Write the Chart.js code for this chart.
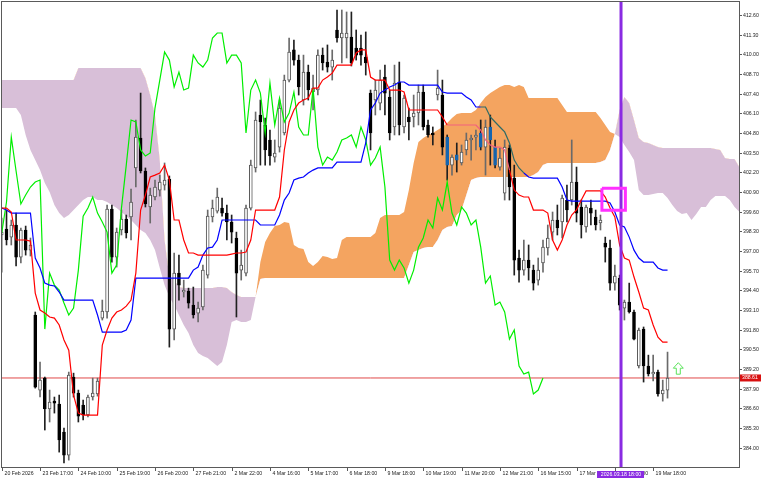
<!DOCTYPE html>
<html>
<head>
<meta charset="utf-8">
<script src="https://cdn.jsdelivr.net/npm/chart.js@4.4.1/dist/chart.umd.min.js"></script>
<style>
  html, body { margin: 0; padding: 0; background: #fff; }
  canvas { display: block; }
</style>
</head>
<body>
<canvas id="chart" width="768" height="480"></canvas>
<script>
// H1 candles, bar index 0..139
const opens = [
  398.06, 398.45, 397.92, 398.72, 396.60, 398.39, 397.06, 392.77, 387.81, 388.60,
  386.56, 387.08, 386.89, 385.03, 383.51, 388.67, 387.61, 386.82, 386.16, 387.35,
  387.55, 392.57, 392.97, 399.78, 396.60, 398.39, 399.11, 399.25, 402.49, 404.47,
  402.29, 399.91, 400.57, 401.03, 401.36, 401.76, 391.84, 395.54, 394.29, 394.35,
  393.43, 392.90, 393.30, 395.41, 399.25, 399.64, 399.84, 399.51, 398.92, 397.86,
  395.74, 395.54, 399.84, 402.49, 405.99, 405.33, 404.34, 403.21, 403.87, 404.80,
  408.30, 410.29, 409.62, 406.98, 408.83, 407.51, 407.64, 409.95, 409.49, 409.16,
  411.61, 411.08, 411.08, 411.14, 410.42, 410.42, 409.82, 407.44, 406.98, 406.78,
  408.50, 407.18, 405.20, 408.17, 405.20, 405.86, 405.86, 406.12, 407.51, 405.33,
  404.80, 407.31, 407.31, 404.53, 402.68, 403.35, 402.82, 403.68, 404.34, 404.53,
  404.80, 403.87, 405.20, 403.87, 402.55, 400.83, 403.81, 401.82, 396.54, 395.74,
  396.40, 395.74, 395.08, 396.21, 397.20, 398.25, 399.05, 398.92, 400.37, 400.37,
  401.56, 399.91, 398.59, 399.84, 399.25, 398.85, 397.53, 397.20, 394.88, 395.21,
  393.23, 393.63, 392.97, 389.40, 391.84, 389.40, 388.87, 389.00, 387.55, 387.81
];
const highs = [
  399.18, 399.71, 399.05, 399.51, 398.52, 398.65, 397.86, 392.97, 389.66, 388.67,
  387.81, 387.35, 387.48, 385.30, 389.00, 388.93, 387.81, 387.15, 387.48, 388.60,
  388.60, 393.76, 400.04, 400.04, 398.52, 399.71, 399.38, 401.10, 405.66, 407.44,
  402.49, 401.16, 401.69, 402.02, 402.82, 401.96, 396.87, 396.73, 395.08, 394.55,
  394.62, 393.63, 396.07, 399.71, 400.37, 401.16, 400.50, 400.04, 399.38, 398.25,
  397.06, 400.04, 403.01, 406.19, 406.98, 405.79, 405.00, 404.34, 406.98, 408.63,
  411.08, 410.95, 409.95, 409.95, 409.29, 408.63, 410.29, 410.42, 410.62, 410.29,
  412.93, 412.93, 412.80, 412.80, 411.61, 411.28, 411.48, 407.64, 408.30, 408.96,
  409.29, 407.64, 409.29, 409.49, 407.31, 406.45, 407.31, 407.97, 407.97, 405.66,
  405.20, 408.96, 408.30, 404.67, 403.35, 404.14, 404.01, 404.80, 404.67, 405.00,
  405.66, 405.66, 405.99, 404.34, 403.81, 404.34, 404.01, 402.68, 397.06, 397.73,
  397.40, 396.07, 396.54, 397.73, 398.72, 399.58, 400.04, 400.70, 401.36, 404.34,
  402.55, 400.37, 400.04, 400.37, 399.71, 399.38, 397.92, 397.73, 396.07, 395.41,
  393.76, 394.88, 393.10, 391.91, 391.98, 390.12, 390.12, 389.13, 388.47, 390.32
];
const lows = [
  395.61, 397.40, 397.40, 396.01, 396.21, 396.73, 396.67, 387.94, 387.35, 385.17,
  385.70, 386.29, 383.71, 382.99, 383.18, 387.35, 385.70, 385.83, 386.03, 387.15,
  387.41, 392.44, 392.57, 396.27, 395.94, 398.06, 397.86, 397.73, 401.23, 402.16,
  399.91, 398.85, 400.37, 400.63, 401.03, 390.65, 391.12, 393.76, 393.96, 393.23,
  392.57, 392.31, 393.10, 395.21, 398.92, 399.51, 399.31, 397.73, 397.53, 392.64,
  395.08, 395.35, 399.71, 402.22, 402.68, 402.68, 402.68, 402.88, 403.54, 404.67,
  408.17, 409.29, 407.31, 406.65, 406.98, 406.32, 407.31, 408.96, 408.83, 408.30,
  410.81, 409.43, 409.76, 409.23, 409.62, 409.29, 408.63, 403.68, 405.99, 406.32,
  405.99, 404.34, 404.67, 404.67, 404.80, 404.34, 405.20, 405.33, 405.00, 404.53,
  404.01, 406.98, 403.35, 401.69, 402.02, 402.22, 402.68, 403.35, 403.01, 403.68,
  403.68, 402.02, 402.68, 402.49, 402.35, 400.37, 400.37, 395.41, 394.95, 395.41,
  395.08, 394.42, 394.75, 395.61, 396.73, 397.73, 398.06, 397.86, 398.92, 400.04,
  398.92, 397.86, 398.25, 398.72, 398.39, 398.39, 396.27, 394.42, 394.42, 393.10,
  392.44, 392.90, 391.12, 389.27, 388.34, 388.74, 388.41, 387.41, 387.08, 387.28
];
const closes = [
  398.25, 397.73, 398.72, 396.60, 398.39, 397.06, 397.40, 388.01, 388.47, 386.56,
  387.02, 386.95, 384.51, 383.51, 388.80, 387.61, 386.09, 386.16, 387.35, 387.61,
  388.41, 393.03, 399.78, 396.60, 398.25, 399.11, 398.19, 400.24, 404.53, 402.29,
  400.11, 400.70, 401.23, 401.56, 401.69, 391.84, 395.54, 394.75, 394.42, 393.56,
  392.77, 393.23, 395.74, 399.31, 399.84, 400.57, 399.51, 398.92, 398.25, 395.54,
  396.07, 399.84, 402.68, 405.66, 405.53, 403.68, 403.28, 403.48, 406.45, 408.30,
  410.15, 409.62, 407.84, 408.83, 407.64, 407.77, 409.95, 409.43, 409.16, 409.62,
  411.08, 411.41, 411.41, 409.43, 409.95, 409.95, 409.43, 404.80, 407.64, 408.30,
  407.44, 404.80, 408.10, 405.33, 407.11, 405.53, 406.12, 407.51, 405.20, 404.67,
  404.67, 407.77, 403.87, 402.68, 403.21, 403.01, 403.54, 404.34, 404.47, 404.67,
  403.87, 405.20, 404.34, 402.68, 403.15, 403.87, 401.23, 396.40, 395.74, 396.40,
  395.88, 394.88, 395.74, 397.26, 397.86, 399.05, 398.52, 400.50, 399.71, 401.56,
  399.51, 398.72, 399.91, 399.51, 398.72, 399.05, 397.26, 394.88, 395.35, 393.43,
  393.63, 392.97, 391.18, 391.78, 389.40, 388.87, 389.00, 387.55, 387.81, 388.61
];

// Ichimoku lines
const tenkan = [
  399.84, 399.84, 399.58, 397.73, 397.73, 397.73, 397.66, 394.22, 393.10, 392.90,
  392.64, 392.57, 392.11, 391.12, 390.45, 387.48, 386.29, 386.16, 386.16, 386.16,
  386.16, 390.79, 391.78, 392.57, 392.97, 393.10, 393.36, 393.76, 395.54, 399.71,
  400.70, 401.89, 402.02, 402.16, 402.68, 401.69, 399.05, 399.05, 397.73, 396.87,
  396.87, 396.73, 396.73, 396.73, 396.73, 396.73, 396.73, 396.73, 396.80, 396.87,
  396.87, 396.93, 397.73, 399.71, 399.71, 399.71, 399.71, 399.71, 400.57, 403.68,
  405.53, 406.32, 406.78, 406.98, 407.11, 407.77, 407.77, 408.30, 408.50, 408.76,
  409.29, 409.29, 409.29, 409.29, 410.09, 410.29, 410.29, 408.50, 408.30, 408.30,
  408.30, 407.64, 407.64, 407.64, 407.51, 406.32, 406.32, 406.32, 406.32, 406.32,
  406.32, 406.32, 405.86, 405.33, 405.33, 405.33, 405.33, 405.33, 405.33, 405.33,
  405.00, 404.34, 404.01, 403.87, 403.87, 403.68, 402.35, 401.03, 400.70, 400.57,
  400.57, 399.71, 399.71, 399.71, 399.51, 397.73, 397.06, 397.73, 398.72, 399.38,
  399.71, 400.37, 400.97, 400.97, 400.97, 400.97, 400.57, 399.84, 399.25, 397.40,
  396.54, 396.40, 395.28, 394.29, 393.23, 393.10, 392.11, 391.31, 390.98, 390.98
];
const kijun = [
  399.84, 399.71, 399.51, 399.51, 399.51, 399.51, 399.51, 396.54, 395.88, 394.88,
  394.75, 394.69, 394.29, 393.76, 393.76, 393.76, 393.76, 393.76, 393.76, 393.76,
  392.77, 391.64, 391.64, 391.64, 391.64, 391.64, 391.78, 392.44, 395.21, 395.21,
  395.21, 395.21, 395.21, 395.21, 395.21, 395.21, 395.21, 395.21, 395.21, 395.21,
  395.74, 395.94, 396.73, 397.20, 397.26, 397.73, 399.05, 399.05, 399.05, 399.05,
  399.05, 399.05, 399.05, 399.05, 398.72, 398.72, 398.72, 398.72, 399.38, 400.37,
  400.83, 401.69, 401.82, 401.89, 402.16, 402.35, 402.49, 402.49, 402.49, 402.49,
  402.88, 402.88, 402.88, 402.88, 402.88, 402.88, 404.14, 406.32, 406.78, 407.44,
  407.64, 407.84, 407.97, 408.17, 408.17, 407.97, 407.97, 407.97, 407.97, 407.97,
  407.97, 407.97, 407.51, 407.44, 407.44, 407.44, 407.44, 407.18, 406.98, 406.52,
  406.52, 406.52, 405.86, 405.53, 405.20, 404.87, 404.14, 403.01, 402.49, 402.16,
  401.89, 401.82, 401.82, 401.82, 401.82, 401.82, 401.82, 401.23, 400.37, 400.30,
  400.30, 400.30, 400.30, 400.30, 400.30, 400.30, 400.30, 400.17, 399.58, 398.72,
  398.59, 397.92, 397.06, 396.54, 396.27, 396.27, 396.27, 395.88, 395.74, 395.74
];
// Senkou spans, already shifted 26 bars ahead (index 0..154)
const spanA = [
  406.45, 406.45, 406.45, 406.45, 405.99, 404.67, 403.68, 403.01, 402.35, 401.49,
  400.90, 400.04, 399.51, 399.18, 399.38, 399.71, 400.04, 400.37, 400.57, 400.57,
  400.37, 400.37, 400.24, 400.04, 399.84, 399.58, 399.31, 399.05, 398.72, 398.39,
  398.19, 397.73, 397.06, 395.88, 394.75, 393.96, 393.43, 392.77, 392.11, 391.58,
  390.79, 390.26, 390.06, 389.93, 389.66, 389.40, 389.66, 390.79, 392.31, 392.44,
  392.31, 392.31, 392.44, 393.96, 396.27, 397.59, 398.19, 398.65, 398.72, 398.92,
  398.85, 397.40, 397.20, 397.13, 396.27, 396.01, 396.27, 396.67, 396.60, 396.47,
  396.54, 397.73, 397.92, 397.92, 397.92, 397.92, 397.92, 397.92, 398.19, 399.18,
  399.38, 399.38, 399.38, 399.38, 399.58, 401.03, 402.82, 404.20, 404.47, 404.67,
  404.80, 405.00, 405.20, 405.46, 405.79, 406.06, 406.12, 406.12, 406.12, 406.32,
  406.78, 407.18, 407.44, 407.64, 407.84, 407.97, 407.97, 407.84, 407.97, 407.84,
  407.11, 407.11, 407.11, 407.11, 407.11, 407.11, 407.11, 406.65, 406.19, 406.19,
  406.19, 406.19, 406.19, 406.19, 406.19, 405.79, 405.33, 404.87, 404.73, 404.53,
  404.01, 403.54, 403.01, 401.03, 400.70, 400.70, 400.77, 400.83, 400.83, 400.50,
  400.04, 399.64, 399.44, 399.51, 399.05, 399.44, 399.91, 399.91, 400.37, 400.63,
  400.63, 400.63, 400.37, 399.91, 399.58
];
const spanB = [
  408.30, 408.30, 408.30, 408.30, 408.30, 408.30, 408.30, 408.30, 408.30, 408.30,
  408.30, 408.30, 408.30, 408.30, 408.30, 408.30, 409.10, 409.10, 409.10, 409.10,
  409.10, 409.10, 409.10, 409.10, 409.10, 409.10, 409.10, 409.10, 409.10, 409.10,
  408.43, 407.31, 405.99, 403.01, 397.73, 395.28, 395.08, 394.62, 394.55, 394.55,
  394.55, 394.55, 394.55, 394.55, 394.55, 394.62, 394.62, 394.55, 394.29, 394.09,
  393.96, 393.96, 393.96, 393.96, 395.15, 395.21, 395.21, 395.21, 395.21, 395.21,
  395.21, 395.21, 395.21, 395.21, 395.21, 395.21, 395.21, 395.21, 395.21, 395.21,
  395.21, 395.21, 395.21, 395.21, 395.21, 395.21, 395.21, 395.21, 395.21, 395.21,
  395.21, 395.21, 395.21, 395.21, 395.21, 396.07, 396.93, 397.06, 397.20, 397.26,
  397.26, 397.73, 398.39, 398.59, 398.65, 399.38, 399.71, 400.70, 401.69, 401.82,
  401.89, 401.89, 401.89, 401.89, 401.89, 401.89, 401.89, 401.89, 401.89, 401.89,
  401.89, 402.02, 402.22, 402.68, 402.82, 402.82, 402.82, 402.82, 402.82, 402.82,
  402.82, 402.82, 402.82, 402.82, 402.82, 402.88, 403.01, 403.68, 404.73, 406.32,
  407.18, 406.78, 405.66, 404.47, 404.20, 404.14, 404.01, 403.87, 403.81, 403.81,
  403.81, 403.81, 403.81, 403.81, 403.81, 403.81, 403.81, 403.81, 403.81, 403.74,
  403.68, 403.15, 403.08, 403.08, 402.55
];
const CHIKOU_SHIFT = 26;

const yTicks = [
  384.00, 385.30, 386.60, 387.90, 389.20, 390.50, 391.80, 393.10, 394.40, 395.70, 397.00, 398.30,
  399.60, 400.90, 402.20, 403.50, 404.80, 406.10, 407.40, 408.70, 410.00, 411.30, 412.60
];
const xTickBars = [0, 8, 16, 24, 32, 40, 48, 56, 64, 72, 80, 88, 96, 104, 112, 120, 128, 136];
const xTickLabels = [
  '20 Feb 2026', '23 Feb 17:00', '24 Feb 10:00', '25 Feb 19:00', '26 Feb 20:00', '27 Feb 21:00',
  '2 Mar 22:00', '4 Mar 16:00', '5 Mar 17:00', '6 Mar 18:00', '9 Mar 18:00', '10 Mar 19:00',
  '11 Mar 20:00', '12 Mar 21:00', '16 Mar 15:00', '17 Mar 16:00', '18 Mar 17:00', '19 Mar 18:00'
];

// objects on the chart
const LAST_PRICE = 388.61;
const VLINE_BAR = 129.29;
const VLINE_LABEL = '2026.03.18 18:00';
const RECT = { bar1: 125.3, bar2: 130.2, price1: 401.15, price2: 399.70 };
const ARROW = { bar: 141.25, price: 389.62 };

const X_MIN = 0.06, X_MAX = 153.92;
const Y_MIN = 382.726, Y_MAX = 413.459;

const SANDY = '#F4A460', THISTLE = '#D8BFD8';
const FONT = '5.2px "Liberation Sans", Arial, sans-serif';

function bullish(i) { return closes[i] >= opens[i]; }
function inOrange(i, lo, hi) {
  const a = spanA[i], b = spanB[i];
  return a > b && lo > b && hi < a;
}
function bodyColor(i) {
  if (bullish(i)) return '#ffffff';
  const lo = Math.min(opens[i], closes[i]), hi = Math.max(opens[i], closes[i]);
  return inOrange(i, lo, hi) ? '#1565B0' : '#000000';
}
function lineSeg(series, color) {
  return c => {
    const i0 = c.p0DataIndex, i1 = c.p1DataIndex;
    const v0 = series[i0], v1 = series[i1];
    return inOrange(i0, v0, v0) && inOrange(i1, v1, v1) ? color : undefined;
  };
}
const pts = arr => arr.map((v, i) => ({ x: i, y: v }));

const axesPlugin = {
  id: 'axesPlugin',
  afterDraw(chart) {
    const { ctx, chartArea: a, scales: { x, y } } = chart;
    ctx.save();
    // frame
    ctx.strokeStyle = '#5a5a5a';
    ctx.lineWidth = 1;
    ctx.strokeRect(a.left - 0.5, a.top - 0.5, a.right - a.left + 1, a.bottom - a.top + 1);

    ctx.font = FONT;
    ctx.fillStyle = '#222';
    ctx.textBaseline = 'middle';
    // price axis
    ctx.textAlign = 'left';
    yTicks.forEach(v => {
      const py = Math.round(y.getPixelForValue(v)) + 0.5;
      ctx.beginPath();
      ctx.moveTo(a.right, py);
      ctx.lineTo(a.right + 3, py);
      ctx.stroke();
      ctx.fillText(v.toFixed(2), a.right + 4, py);
    });
    // time axis
    xTickBars.forEach((b, k) => {
      const px = Math.round(x.getPixelForValue(b)) + 0.5;
      ctx.beginPath();
      ctx.moveTo(px, a.bottom);
      ctx.lineTo(px, a.bottom + 4);
      ctx.stroke();
      ctx.fillText(xTickLabels[k], px + 2, a.bottom + 7);
    });

    // last price tag
    const ly = y.getPixelForValue(LAST_PRICE);
    ctx.fillStyle = '#D81010';
    ctx.fillRect(a.right + 1, ly - 3.5, 21, 7);
    ctx.fillStyle = '#fff';
    ctx.fillText(LAST_PRICE.toFixed(2), a.right + 3, ly);

    // vertical line time tag
    const vx = x.getPixelForValue(VLINE_BAR);
    ctx.fillStyle = '#8A2BE2';
    ctx.fillRect(vx - 24, a.bottom + 4, 47, 7);
    ctx.fillStyle = '#fff';
    ctx.textAlign = 'center';
    ctx.fillText(VLINE_LABEL, vx, a.bottom + 7.5);

    // up arrow
    const ax = x.getPixelForValue(ARROW.bar), ay = y.getPixelForValue(ARROW.price);
    ctx.strokeStyle = '#5BE35B';
    ctx.lineWidth = 1;
    ctx.beginPath();
    ctx.moveTo(ax, ay);
    ctx.lineTo(ax + 5, ay + 5.5);
    ctx.lineTo(ax + 2, ay + 5.5);
    ctx.lineTo(ax + 2, ay + 11.5);
    ctx.lineTo(ax - 2, ay + 11.5);
    ctx.lineTo(ax - 2, ay + 5.5);
    ctx.lineTo(ax - 5, ay + 5.5);
    ctx.closePath();
    ctx.stroke();
    ctx.restore();
  }
};

const datasets = [
  {
    type: 'line', label: 'Senkou A', data: pts(spanA), order: 20,
    borderColor: 'transparent', borderWidth: 0, pointRadius: 0,
    fill: { target: 1, above: SANDY, below: THISTLE }
  },
  {
    type: 'line', label: 'Senkou B', data: pts(spanB), order: 19,
    borderColor: 'transparent', borderWidth: 0, pointRadius: 0, fill: false
  },
  {
    type: 'line', label: 'Last', order: 15,
    data: [{ x: X_MIN, y: LAST_PRICE }, { x: X_MAX, y: LAST_PRICE }],
    borderColor: '#E04848', borderWidth: 1, pointRadius: 0
  },
  {
    type: 'bar', label: 'Wicks', order: 12, grouped: false, barThickness: 1,
    data: lows.map((l, i) => ({ x: i, y: [l, highs[i]] })),
    backgroundColor: c => bullish(c.dataIndex) ? '#6a6a6a' : '#202020',
    borderWidth: 0
  },
  {
    type: 'bar', label: 'Bodies', order: 11, grouped: false, barThickness: 3,
    data: opens.map((o, i) => ({ x: i, y: [o, closes[i]] })),
    backgroundColor: c => bodyColor(c.dataIndex),
    borderColor: c => bullish(c.dataIndex) ? '#555555' : bodyColor(c.dataIndex),
    borderWidth: 1, borderSkipped: false
  },
  {
    type: 'line', label: 'Chikou', order: 9,
    data: closes.slice(CHIKOU_SHIFT).map((v, k) => ({ x: k, y: v })),
    borderColor: '#00EE00', borderWidth: 1.2, pointRadius: 0
  },
  {
    type: 'line', label: 'Kijun', order: 8, data: pts(kijun),
    borderColor: '#0000FF', borderWidth: 1.2, pointRadius: 0,
    segment: { borderColor: lineSeg(kijun, '#2F6B66') }
  },
  {
    type: 'line', label: 'Tenkan', order: 7, data: pts(tenkan),
    borderColor: '#FF0000', borderWidth: 1.2, pointRadius: 0,
    segment: { borderColor: lineSeg(tenkan, '#F2607E') }
  },
  {
    type: 'line', label: 'VLine', order: 2,
    data: [{ x: VLINE_BAR, y: Y_MIN }, { x: VLINE_BAR, y: Y_MAX }],
    borderColor: '#8A2BE2', borderWidth: 3, pointRadius: 0
  },
  {
    type: 'line', label: 'Rect', order: 1,
    data: [
      { x: RECT.bar1, y: RECT.price1 }, { x: RECT.bar2, y: RECT.price1 },
      { x: RECT.bar2, y: RECT.price2 }, { x: RECT.bar1, y: RECT.price2 },
      { x: RECT.bar1, y: RECT.price1 }
    ],
    borderColor: '#FF30FF', borderWidth: 3, pointRadius: 0
  }
];

new Chart(document.getElementById('chart'), {
  type: 'bar',
  data: { datasets },
  options: {
    responsive: false,
    devicePixelRatio: 1,
    animation: false,
    events: [],
    layout: { padding: { left: 2, top: 2, right: 29, bottom: 13 } },
    plugins: {
      legend: { display: false },
      tooltip: { enabled: false },
      filler: { propagate: false }
    },
    scales: {
      x: { type: 'linear', min: X_MIN, max: X_MAX, offset: false, display: false },
      y: { type: 'linear', min: Y_MIN, max: Y_MAX, display: false }
    }
  },
  plugins: [axesPlugin]
});
</script>
</body>
</html>
